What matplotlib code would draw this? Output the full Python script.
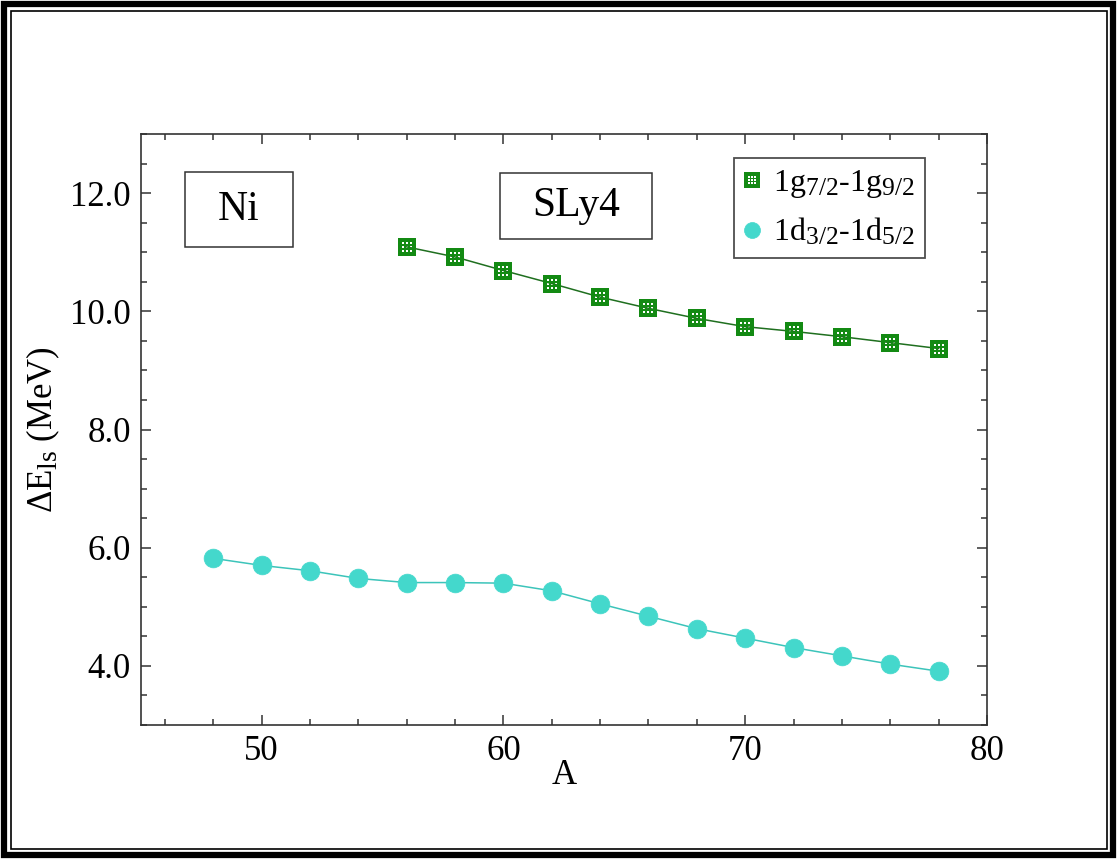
import matplotlib
matplotlib.use("Agg")
import matplotlib.pyplot as plt
import matplotlib._mathtext as _mt
from matplotlib.path import Path
from matplotlib.patches import Rectangle
from matplotlib.lines import Line2D
from matplotlib.ticker import MultipleLocator, FormatStrFormatter
import numpy as np

_mt.SHRINK_FACTOR = 0.8

plt.rcParams['font.family'] = ['Liberation Serif', 'DejaVu Serif']
plt.rcParams['mathtext.fontset'] = 'custom'
plt.rcParams['mathtext.rm'] = 'Liberation Serif'
plt.rcParams['mathtext.it'] = 'Liberation Serif:italic'
plt.rcParams['mathtext.bf'] = 'Liberation Serif:bold'

# Data
A_g = [56, 58, 60, 62, 64, 66, 68, 70, 72, 74, 76, 78]
dE_g = [11.09, 10.92, 10.69, 10.47, 10.24, 10.05, 9.88, 9.74, 9.66, 9.57, 9.47, 9.37]
A_d = [48, 50, 52, 54, 56, 58, 60, 62, 64, 66, 68, 70, 72, 74, 76, 78]
dE_d = [5.82, 5.70, 5.61, 5.48, 5.41, 5.41, 5.40, 5.27, 5.05, 4.84, 4.63, 4.47, 4.31, 4.17, 4.03, 3.91]
label_g = r'1g$_{7/2}$-1g$_{9/2}$'
label_d = r'1d$_{3/2}$-1d$_{5/2}$'

# custom square marker with 3x3 grid of holes
verts = [(-1, -1), (1, -1), (1, 1), (-1, 1), (-1, -1)]
codes = [Path.MOVETO, Path.LINETO, Path.LINETO, Path.LINETO, Path.CLOSEPOLY]
h = 0.14
for cx in (-0.42, 0.0, 0.42):
    for cy in (-0.42, 0.0, 0.42):
        verts += [(cx - h, cy - h), (cx - h, cy + h), (cx + h, cy + h), (cx + h, cy - h), (cx - h, cy - h)]
        codes += [Path.MOVETO, Path.LINETO, Path.LINETO, Path.LINETO, Path.CLOSEPOLY]
grid_sq = Path(verts, codes)

W, H = 1117, 859
fig = plt.figure(figsize=(W / 100, H / 100), dpi=100)
ax = fig.add_axes([140.7 / W, 1 - 725 / H, (987 - 140.7) / W, (725 - 134) / H])

green = '#138a13'
cyan = '#44d8cc'
ax.plot(A_g, dE_g, '-', color='#1f6f1f', lw=1.1, marker=grid_sq, ms=13.5,
        mfc=green, mec=green, mew=0, zorder=3)
ax.plot(A_d, dE_d, '-', color='#3cc4ba', lw=1.1, marker='o', ms=13.5,
        mfc=cyan, mec=cyan, mew=0.5, zorder=3)

ax.set_xlim(45, 80)
ax.set_ylim(3, 13)
ax.xaxis.set_major_locator(MultipleLocator(10))
ax.xaxis.set_minor_locator(MultipleLocator(2))
ax.yaxis.set_major_locator(MultipleLocator(2))
ax.yaxis.set_minor_locator(MultipleLocator(0.5))
ax.yaxis.set_major_formatter(FormatStrFormatter('%.1f'))

ax.tick_params(which='both', direction='in', top=True, right=True, width=1.1, color='#333333',
               labelsize=25, pad=7)
ax.tick_params(which='major', length=7)
ax.tick_params(which='minor', length=4)
for s in ax.spines.values():
    s.set_linewidth(1.2)
    s.set_color('#333333')

ax.set_xlabel('A', fontsize=25, labelpad=-6)
ax.set_ylabel(r'$\Delta$E$_{\rm ls}$ (MeV)', fontsize=25, labelpad=6)

handles = [Line2D([], [], ls='none', marker=grid_sq, ms=11, mfc=green, mec=green, mew=0),
           Line2D([], [], ls='none', marker='o', ms=11.5, mfc=cyan, mec=cyan, mew=0.5)]
leg = ax.legend(handles, [label_g, label_d], loc='upper right',
                bbox_to_anchor=((925 - 140.7) / (987 - 140.7), (725 - 158) / (725 - 134)),
                fontsize=23, frameon=True, fancybox=False, edgecolor='#222222',
                handlelength=0.5, handletextpad=0.4, labelspacing=0.5, borderpad=0.32,
                borderaxespad=0)
leg.get_frame().set_linewidth(1.3)

# text boxes
for (x0, y0, x1, y1, txt) in [(185, 172, 293, 247, 'Ni'), (500, 173, 652, 239, 'SLy4')]:
    fig.add_artist(Rectangle((x0 / W, 1 - y1 / H), (x1 - x0) / W, (y1 - y0) / H,
                             transform=fig.transFigure, fill=False, ec='#333333', lw=1.1))
    fig.text((x0 + x1) / 2 / W, 1 - (y0 + y1) / 2 / H, txt, ha='center', va='center', fontsize=30)

# outer frame
fig.add_artist(Rectangle((4 / W, 4 / H), 1 - 8 / W, 1 - 8 / H, transform=fig.transFigure,
                         fill=False, ec='black', lw=4.5))
fig.add_artist(Rectangle((10.5 / W, 10.5 / H), 1 - 21 / W, 1 - 21 / H, transform=fig.transFigure,
                         fill=False, ec='black', lw=1.2))

fig.savefig('out.png', dpi=100)
